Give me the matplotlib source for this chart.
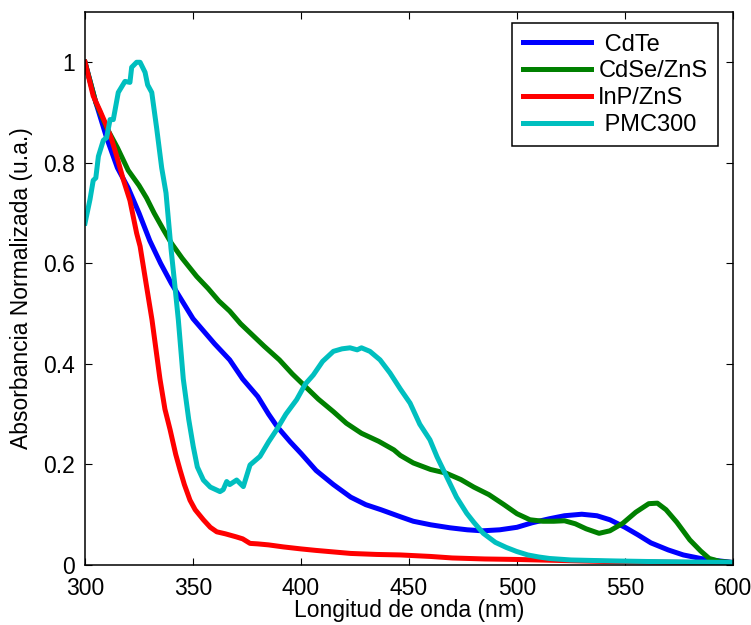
import matplotlib.pyplot as plt
import numpy as np

plt.rcParams['font.family'] = ['Liberation Sans', 'DejaVu Sans']

# CdTe
cdte_x = [300, 305, 310, 315, 320, 325, 330, 335, 340, 345, 350, 355, 360, 367, 373,
          380, 385, 389, 395, 400, 407, 415, 423, 430, 437, 446, 452, 460, 469, 477,
          484, 492, 500, 507, 515, 522, 530, 537, 543, 550, 556, 562, 570, 577, 585,
          592, 600]
cdte_y = [1.00, 0.92, 0.85, 0.79, 0.75, 0.70, 0.645, 0.60, 0.56, 0.525, 0.49, 0.465,
          0.44, 0.408, 0.37, 0.335, 0.30, 0.275, 0.245, 0.222, 0.188, 0.16, 0.135,
          0.12, 0.11, 0.096, 0.087, 0.08, 0.074, 0.07, 0.068, 0.07, 0.075, 0.084,
          0.092, 0.098, 0.101, 0.098, 0.09, 0.075, 0.06, 0.044, 0.03, 0.02, 0.013,
          0.009, 0.005]

# CdSe/ZnS
cdse_x = [300, 305, 310, 315, 320, 325, 328.5, 332, 336.3, 340, 345, 351.7, 357, 362,
          367, 372, 376.4, 383, 390, 396, 402, 408, 415, 421, 428, 436, 443, 446, 452,
          460, 467, 474, 480, 487, 494, 500, 506, 512, 517, 522, 527, 532, 538, 543,
          549, 555, 561, 565, 569, 574, 580, 585, 589, 594, 600]
cdse_y = [1.00, 0.92, 0.87, 0.83, 0.785, 0.755, 0.73, 0.70, 0.667, 0.64, 0.61, 0.574,
          0.55, 0.525, 0.505, 0.48, 0.462, 0.435, 0.408, 0.38, 0.355, 0.33, 0.305,
          0.282, 0.262, 0.246, 0.229, 0.218, 0.203, 0.19, 0.183, 0.17, 0.155, 0.14,
          0.12, 0.102, 0.09, 0.087, 0.087, 0.088, 0.082, 0.072, 0.063, 0.068, 0.083,
          0.105, 0.122, 0.123, 0.11, 0.085, 0.05, 0.028, 0.013, 0.007, 0.005]

# InP/ZnS
inp_x = [300, 303.8, 307, 310, 312.3, 314.7, 317.7, 320.8, 323.9, 325.5, 328.5, 331,
         334.7, 337, 339.4, 342, 344, 346, 348.6, 351, 354.8, 358, 361, 365, 370, 373,
         376.4, 380, 385, 391.8, 400, 407, 415, 423, 435, 446, 460, 470, 485, 500,
         520, 540, 560, 580, 600]
inp_y = [1.00, 0.933, 0.903, 0.873, 0.847, 0.813, 0.767, 0.725, 0.66, 0.634, 0.554,
         0.488, 0.37, 0.31, 0.269, 0.22, 0.189, 0.16, 0.129, 0.11, 0.09, 0.075, 0.066,
         0.062, 0.056, 0.052, 0.043, 0.042, 0.04, 0.036, 0.032, 0.029, 0.026, 0.023,
         0.021, 0.02, 0.017, 0.014, 0.012, 0.011, 0.009, 0.007, 0.006, 0.005, 0.004]

# PMC300
pmc_x = [300, 302.3, 303.8, 305, 306.2, 308.5, 310, 311.6, 313.1, 315.4, 318.5, 320.8,
         321.6, 323.9, 325.5, 327.8, 329, 330.9, 333.2, 335.5, 337.5, 339.8, 341.5,
         343.2, 345.5, 348, 350.1, 352, 354.8, 358, 362.5, 364, 365.6, 367, 370.2,
         373.3, 376.4, 381, 385, 388.7, 393, 398, 402, 405.7, 410, 415, 419, 422.7,
         426, 428, 431.9, 436.6, 441.2, 446, 450.5, 455, 459.7, 463, 467.4, 472,
         476.7, 480, 484.4, 490, 495, 499.8, 505, 510, 515, 525, 535, 546, 560, 580,
         600]
pmc_y = [0.68, 0.727, 0.765, 0.77, 0.813, 0.845, 0.85, 0.886, 0.886, 0.94, 0.962, 0.96,
         0.99, 1.00, 1.00, 0.98, 0.955, 0.94, 0.868, 0.79, 0.74, 0.63, 0.56, 0.488,
         0.37, 0.29, 0.236, 0.195, 0.169, 0.155, 0.146, 0.15, 0.166, 0.16, 0.169,
         0.156, 0.199, 0.216, 0.245, 0.269, 0.30, 0.329, 0.36, 0.378, 0.405, 0.425,
         0.43, 0.432, 0.428, 0.432, 0.425, 0.408, 0.382, 0.35, 0.322, 0.28, 0.249,
         0.215, 0.176, 0.135, 0.103, 0.085, 0.063, 0.045, 0.035, 0.027, 0.02, 0.016,
         0.013, 0.01, 0.009, 0.008, 0.007, 0.006, 0.005]

fig = plt.figure(figsize=(7.51, 6.25), dpi=100)
ax = fig.add_axes([0.1132, 0.096, 0.8628, 0.8848])

lw = 3.6
ax.plot(cdte_x, cdte_y, color='#0000FF', lw=lw, label=' CdTe')
ax.plot(cdse_x, cdse_y, color='#008000', lw=lw, label='CdSe/ZnS')
ax.plot(inp_x, inp_y, color='#FF0000', lw=lw, label='InP/ZnS')
ax.plot(pmc_x, pmc_y, color='#00BFBF', lw=lw, label=' PMC300')

ax.set_xlim(300, 600)
ax.set_ylim(0, 1.1)
ax.set_xticks(np.arange(300, 601, 50))
ax.set_yticks([0, 0.2, 0.4, 0.6, 0.8, 1])
ax.set_yticklabels(['0', '0.2', '0.4', '0.6', '0.8', '1'])
ax.tick_params(direction='in', length=5, width=0.8, top=True, right=True,
               labelsize=16.5, pad=7)
ax.tick_params(axis='x', pad=8.5)
for s in ax.spines.values():
    s.set_linewidth(1.1)

ax.set_xlabel('Longitud de onda (nm)', fontsize=16.5)
ax.set_ylabel('Absorbancia Normalizada (u.a.)', fontsize=16.5)
ax.xaxis.set_label_coords(0.5, -0.062)
ax.yaxis.set_label_coords(-0.08, 0.5)

leg = ax.legend(loc='upper right', bbox_to_anchor=(0.977, 0.980), borderaxespad=0,
                fontsize=17, handlelength=2.9, handletextpad=0.3, labelspacing=0.2,
                borderpad=0.45, fancybox=False, framealpha=1, edgecolor='black')
leg.get_frame().set_linewidth(1.1)

plt.savefig('out.png', dpi=100)
